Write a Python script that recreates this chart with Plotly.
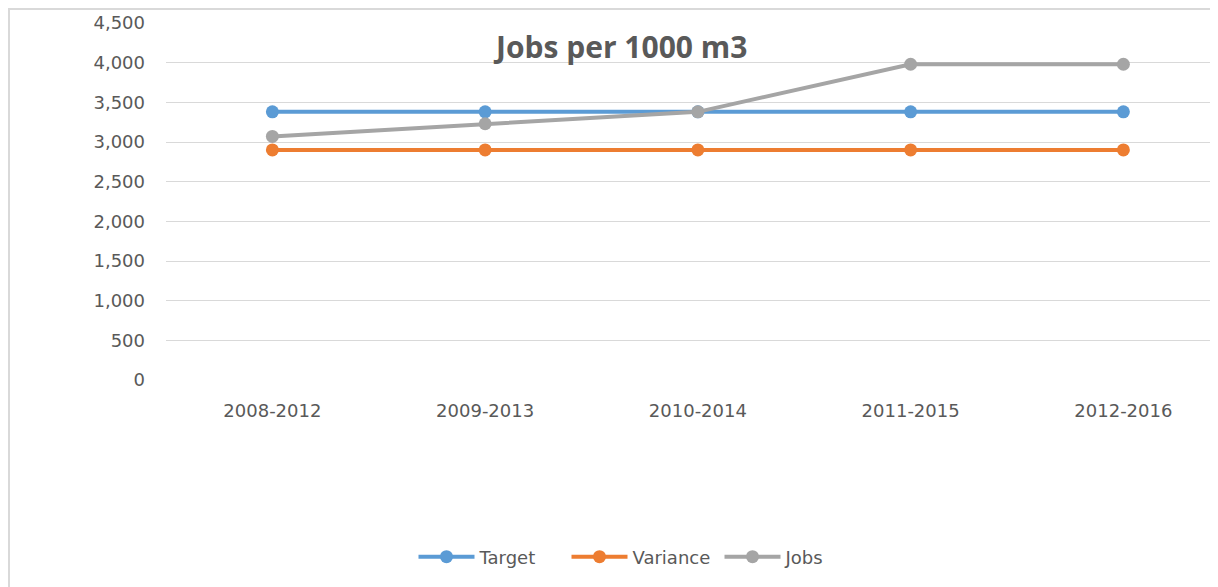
import plotly.graph_objects as go

categories = ["2008-2012", "2009-2013", "2010-2014", "2011-2015", "2012-2016"]
target = [3380, 3380, 3380, 3380, 3380]
variance = [2900, 2900, 2900, 2900, 2900]
jobs = [3070, 3230, 3380, 3980, 3980]
y_ticks = [0, 500, 1000, 1500, 2000, 2500, 3000, 3500, 4000, 4500]
y_tick_labels = ["0", "500", "1,000", "1,500", "2,000", "2,500", "3,000", "3,500", "4,000", "4,500"]

series = [
    ("Target", target, "#5B9BD5"),
    ("Variance", variance, "#ED7D31"),
    ("Jobs", jobs, "#A5A5A5"),
]

# page has an 8px body margin, so the figure is sized to fit the 1218x587 view
W, H = 1210, 579
L, R, T, B = 158, 1, 15, 207
pw, ph = W - L - R, H - T - B
cat_step = 212.75

fig = go.Figure()
for name, vals, col in series:
    fig.add_trace(go.Scatter(
        x=categories, y=vals, name=name, mode="lines+markers",
        line=dict(color=col, width=4),
        marker=dict(color=col, size=13),
    ))

font_col = "#595959"
fig.update_layout(
    width=W, height=H,
    margin=dict(l=L, r=R, t=T, b=B, pad=0),
    paper_bgcolor="white", plot_bgcolor="white",
    font=dict(family="DejaVu Sans", size=18, color=font_col),
    showlegend=True,
    legend=dict(orientation="h", x=(635 - L) / pw, xanchor="center",
                y=(T + ph - 549) / ph, yanchor="middle",
                font=dict(family="DejaVu Sans", size=18, color=font_col),
                itemwidth=56, entrywidth=82, entrywidthmode="pixels",
                tracegroupgap=0),
    xaxis=dict(type="category", range=[-0.5, -0.5 + pw / cat_step],
               showgrid=False, zeroline=False, showline=False, ticks="",
               ticklabelstandoff=18,
               tickfont=dict(family="DejaVu Sans", size=18, color=font_col)),
    yaxis=dict(range=[0, 4500], tickvals=y_ticks, ticktext=y_tick_labels,
               showgrid=True, gridcolor="#D9D9D9", gridwidth=1,
               zeroline=False, showline=False, ticks="",
               ticklabelstandoff=20,
               tickfont=dict(family="DejaVu Sans", size=18, color=font_col)),
    annotations=[dict(
        text="<b>Jobs per 1000 m3</b>", xref="paper", yref="paper",
        x=(612 - L) / pw, y=1 + (T - 39) / ph, xanchor="center", yanchor="middle",
        showarrow=False, font=dict(family="Open Sans", size=30, color=font_col),
    )],
    shapes=[
        dict(type="line", xref="paper", yref="paper",
             x0=(1 - L) / pw, x1=(1 - L) / pw, y0=1 + (T - 0) / ph, y1=-(B + 5) / ph,
             line=dict(color="#D9D9D9", width=2)),
        dict(type="line", xref="paper", yref="paper",
             x0=(0 - L) / pw, x1=1 + (R + 5) / pw, y0=1 + (T - 1) / ph, y1=1 + (T - 1) / ph,
             line=dict(color="#D9D9D9", width=2)),
    ],
)

fig.write_html("out.html")
